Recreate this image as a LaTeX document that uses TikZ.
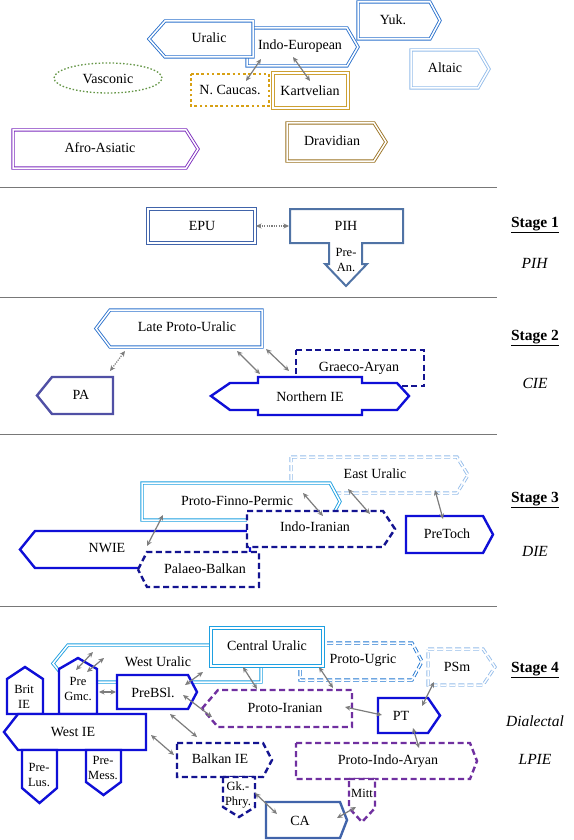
\documentclass[tikz,border=0pt]{standalone}
\usepackage{fontspec}
\setmainfont{Liberation Serif}
\usetikzlibrary{arrows.meta}
\definecolor{ublue}{RGB}{45,115,205}
\definecolor{lblue}{RGB}{150,190,235}
\definecolor{cyanb}{RGB}{30,160,225}
\definecolor{ugblue}{RGB}{35,120,210}
\definecolor{steel}{RGB}{65,100,170}
\definecolor{steelb}{RGB}{80,115,165}
\definecolor{bblue}{RGB}{15,15,215}
\definecolor{navy}{RGB}{20,20,145}
\definecolor{purp}{RGB}{112,48,160}
\definecolor{afro}{RGB}{125,45,190}
\definecolor{slate}{RGB}{80,80,165}
\definecolor{gold}{RGB}{215,160,20}
\definecolor{kart}{RGB}{205,160,50}
\definecolor{drav}{RGB}{155,115,35}
\definecolor{vgreen}{RGB}{100,150,70}
\definecolor{arrgray}{RGB}{125,125,125}
\definecolor{sepgray}{RGB}{120,120,120}
\newcommand\RPent[6]{\filldraw[#1] (#2,#3) -- (#4,#3) -- (#6,{(#3+#5)/2}) -- (#4,#5) -- (#2,#5) -- cycle;}
\newcommand\LPent[6]{\filldraw[#1] (#6,{(#3+#5)/2}) -- (#2,#3) -- (#4,#3) -- (#4,#5) -- (#2,#5) -- cycle;}
\newcommand\DPent[6]{\filldraw[#1] (#2,#3) -- (#4,#3) -- (#4,#5) -- ({(#2+#4)/2},#6) -- (#2,#5) -- cycle;}
\newcommand\UPent[6]{\filldraw[#1] (#2,#6) -- (#2,#5) -- ({(#2+#4)/2},#3) -- (#4,#5) -- (#4,#6) -- cycle;}
\newcommand\RBox[5]{\filldraw[#1] (#2,#3) -- (#4,#3) -- (#4,#5) -- (#2,#5) -- cycle;}
\tikzset{
 box/.style={fill=white, line join=miter},
 dbl/.style={box, draw=#1, double=white, double distance=1.5pt, line width=0.9pt},
 thk/.style={box, draw=#1, line width=2.4pt},
 dsh/.style={box, draw=#1, line width=2.4pt, dash pattern=on 6pt off 3.5pt},
 dshdbl/.style={dbl=#1, dash pattern=on 6pt off 3pt},
 biarr/.style={draw=arrgray, line width=1.2pt, {Stealth[length=5.5pt,width=5pt]}-{Stealth[length=5.5pt,width=5pt]}},
 dotarr/.style={biarr, dash pattern=on 1.2pt off 1.2pt},
 lbl/.style={inner sep=0pt, font=\fontsize{14}{16}\selectfont},
 sml/.style={inner sep=0pt, align=center, font=\fontsize{12.5}{15}\selectfont},
 stg/.style={inner sep=0pt, font=\fontsize{15.5}{18}\selectfont},
 sep/.style={draw=sepgray, line width=0.9pt},
}
\begin{document}
\begin{tikzpicture}[x=1pt,y=-1pt]
\useasboundingbox (0,0) rectangle (573,840);
\fill[white] (0,0) rectangle (573,840);

% separators
\draw[sep] (0,187) -- (497,187);
\draw[sep] (0,297) -- (497,297);
\draw[sep] (0,434) -- (497,434);
\draw[sep] (0,606) -- (497,606);

% ---------- top section ----------
\RPent{dbl=ublue}{247}{28}{347}{66}{358}
\LPent{dbl=ublue}{165}{21}{253}{57}{149}
\RPent{dbl=ublue}{358}{2}{430}{39}{440}
\RPent{dbl=lblue}{411}{50}{478}{88}{489}
\filldraw[box, draw=vgreen, line width=1.3pt, dash pattern=on 1.5pt off 2pt] (108,78) ellipse [x radius=54pt, y radius=15pt];
\RBox{box, draw=gold, line width=2.6pt, dash pattern=on 2.6pt off 2.6pt}{191}{74}{269}{106}
\RBox{dbl=kart}{273}{73}{348}{108}
\RPent{dbl=afro}{13}{130}{186}{168}{198}
\RPent{dbl=drav}{287}{123}{374}{161}{386}

\node[lbl] (ural) at (209,38) {Uralic};
\node[lbl] (ie) at (300,46) {Indo-European};
\node[lbl] (yuk) at (393,20) {Yuk.};
\node[lbl] (alt) at (445,68) {Altaic};
\node[lbl] (vasc) at (108,79) {Vasconic};
\node[lbl] (ncau) at (230,90) {N. Caucas.};
\node[lbl] (kart) at (310,91) {Kartvelian};
\node[lbl] (afro) at (100,148) {Afro-Asiatic};
\node[lbl] (drav) at (332,141) {Dravidian};

\coordinate (t1a) at (261,59); \coordinate (t1b) at (246,81);
\coordinate (t2a) at (293,57); \coordinate (t2b) at (310,81);
\draw[biarr] (t1a) -- (t1b);
\draw[biarr] (t2a) -- (t2b);

% ---------- stage 1 ----------
\RBox{dbl=steel}{148}{209}{255}{243}
\filldraw[box, draw=steelb, line width=2pt] (290,209) -- (403,209) -- (403,243) -- (362,243) -- (362,264) -- (367,264) -- (346,286) -- (325,264) -- (329,264) -- (329,243) -- (290,243) -- cycle;
\node[lbl] (epu) at (202,226) {EPU};
\node[lbl] (pih) at (346,226) {PIH};
\node[sml] (prean) at (346,260) {Pre-\\An.};
\coordinate (s1a) at (256,226); \coordinate (s1b) at (289,226);
\draw[dotarr] (s1a) -- (s1b);

% ---------- stage 2 ----------
\LPent{dbl=ublue}{110}{310}{262}{347}{96}
\LPent{thk=slate}{52}{377}{113}{414}{37}
\RBox{dsh=navy}{296}{350}{424}{386}
\filldraw[box, draw=bblue, line width=2.4pt] (211,396) -- (230,383) -- (258,383) -- (258,377) -- (362,377) -- (362,383) -- (397,383) -- (409,396) -- (397,410) -- (362,410) -- (362,415) -- (258,415) -- (258,410) -- (230,410) -- cycle;
\node[lbl] (lpu) at (187,327) {Late Proto-Uralic};
\node[lbl] (pa) at (81,395) {PA};
\node[lbl] (ga) at (359,368) {Graeco-Aryan};
\node[lbl] (nie) at (310,397) {Northern IE};
\coordinate (p1a) at (110,371); \coordinate (p1b) at (125,351);
\coordinate (p2a) at (237,351); \coordinate (p2b) at (260,374);
\coordinate (p3a) at (266,349); \coordinate (p3b) at (289,371);
\draw[dotarr] (p1a) -- (p1b);
\draw[biarr] (p2a) -- (p2b);
\draw[biarr] (p3a) -- (p3b);

% ---------- stage 3 ----------
\RPent{dshdbl=lblue}{291}{457}{457}{493}{468}
\RPent{dbl=cyanb}{142}{483}{330}{520}{340}
\LPent{thk=bblue}{35}{531}{250}{568}{20}
\RPent{dsh=navy}{247}{511}{383}{547}{395}
\LPent{dsh=navy}{147}{552}{259}{587}{138}
\RPent{thk=bblue}{406}{516}{483}{553}{493}
\node[lbl] (eu) at (375,474) {East Uralic};
\node[lbl] (pfp) at (237,501) {Proto-Finno-Permic};
\node[lbl] (ii) at (315,527) {Indo-Iranian};
\node[lbl] (nwie) at (107,548) {NWIE};
\node[lbl] (pb) at (205,569) {Palaeo-Balkan};
\node[lbl] (ptoch) at (447,534) {PreToch};
\coordinate (q1a) at (163,515); \coordinate (q1b) at (147,546);
\coordinate (q2a) at (303,493); \coordinate (q2b) at (323,516);
\coordinate (q3a) at (348,489); \coordinate (q3b) at (370,514);
\coordinate (q4a) at (435,490); \coordinate (q4b) at (443,519);
\draw[biarr] (q1a) -- (q1b);
\draw[biarr] (q2a) -- (q2b);
\draw[biarr] (q3a) -- (q3b);
\draw[biarr] (q4a) -- (q4b);

% ---------- stage 4 ----------
\LPent{dbl=cyanb}{68}{645}{261}{682}{53}
\RPent{dshdbl=ugblue}{300}{643}{412}{680}{422}
\RBox{dbl=cyanb}{211}{628}{323}{666}
\RPent{dshdbl=lblue}{428}{649}{483}{685}{495}
\UPent{thk=bblue}{7}{667}{43}{679}{714}
\UPent{thk=bblue}{59}{658}{97}{669}{714}
\RPent{thk=bblue}{117}{675}{188}{709}{197}
\LPent{thk=bblue}{18}{714}{146}{750}{4}
\DPent{thk=bblue}{22}{750}{57}{788}{803}
\DPent{thk=bblue}{86}{750}{121}{782}{795}
\LPent{dsh=purp}{218}{690}{352}{727}{202}
\RPent{thk=bblue}{378}{698}{428}{733}{440}
\RPent{dsh=purp}{296}{743}{470}{779}{477}
\DPent{dsh=purp}{349}{779}{375}{808}{822}
\RPent{dsh=navy}{177}{743}{263}{777}{272}
\DPent{dsh=navy}{223}{777}{255}{807}{817}
\RPent{thk=steel}{266}{802}{340}{838}{347}

\node[lbl] (cu) at (267,646) {Central Uralic};
\node[lbl] (wu) at (158,662) {West Uralic};
\node[lbl] (pu) at (363,660) {Proto-Ugric};
\node[lbl] (psm) at (457,667) {PSm};
\node[lbl] (pbsl) at (153,693) {PreBSl.};
\node[sml] (pgmc) at (78,689) {Pre\\Gmc.};
\node[sml] (brit) at (24,697) {Brit\\IE};
\node[lbl] (wie) at (73,732) {West IE};
\node[sml] (plus) at (39,775) {Pre-\\Lus.};
\node[sml] (pmess) at (103,768) {Pre-\\Mess.};
\node[lbl] (pir) at (285,708) {Proto-Iranian};
\node[lbl] (pt) at (401,716) {PT};
\node[lbl] (pia) at (388,761) {Proto-Indo-Aryan};
\node[sml] (mitt) at (362,793) {Mitt};
\node[lbl] (bie) at (220,759) {Balkan IE};
\node[sml] (gkph) at (238,795) {Gk.-\\Phry.};
\node[lbl] (ca) at (300,821) {CA};

\coordinate (a1a) at (76,670); \coordinate (a1b) at (93,652);
\coordinate (a2a) at (87,672); \coordinate (a2b) at (104,658);
\coordinate (bba) at (99,692); \coordinate (bbb) at (116,692);
\coordinate (cca) at (185,685); \coordinate (ccb) at (203,672);
\coordinate (dda) at (183,695); \coordinate (ddb) at (212,717);
\coordinate (eea) at (170,714); \coordinate (eeb) at (197,737);
\coordinate (ffa) at (151,735); \coordinate (ffb) at (174,755);
\coordinate (gga) at (255,793); \coordinate (ggb) at (277,814);
\coordinate (hha) at (243,667); \coordinate (hhb) at (257,689);
\coordinate (iia) at (319,667); \coordinate (iib) at (333,688);
\coordinate (jja) at (345,707); \coordinate (jjb) at (382,715);
\coordinate (kka) at (434,682); \coordinate (kkb) at (422,706);
\coordinate (lla) at (413,728); \coordinate (llb) at (419,748);
\coordinate (mma) at (337,818); \coordinate (mmb) at (356,807);
\foreach \s/\e in {a1a/a1b,a2a/a2b,bba/bbb,cca/ccb,dda/ddb,eea/eeb,ffa/ffb,gga/ggb,hha/hhb,iia/iib,jja/jjb,kka/kkb,lla/llb,mma/mmb}
  \draw[biarr] (\s) -- (\e);

% ---------- stage labels ----------
\node[stg] (st1) at (535,225) {\underline{\textbf{Stage 1}}};
\node[stg] (st1b) at (535,263) {\textit{PIH}};
\node[stg] (st2) at (535,338) {\underline{\textbf{Stage 2}}};
\node[stg] (st2b) at (535,383) {\textit{CIE}};
\node[stg] (st3) at (535,500) {\underline{\textbf{Stage 3}}};
\node[stg] (st3b) at (535,551) {\textit{DIE}};
\node[stg] (st4) at (535,670) {\underline{\textbf{Stage 4}}};
\node[stg] (st4b) at (535,721) {\textit{Dialectal}};
\node[stg] (st4c) at (535,759) {\textit{LPIE}};
\end{tikzpicture}
\end{document}
